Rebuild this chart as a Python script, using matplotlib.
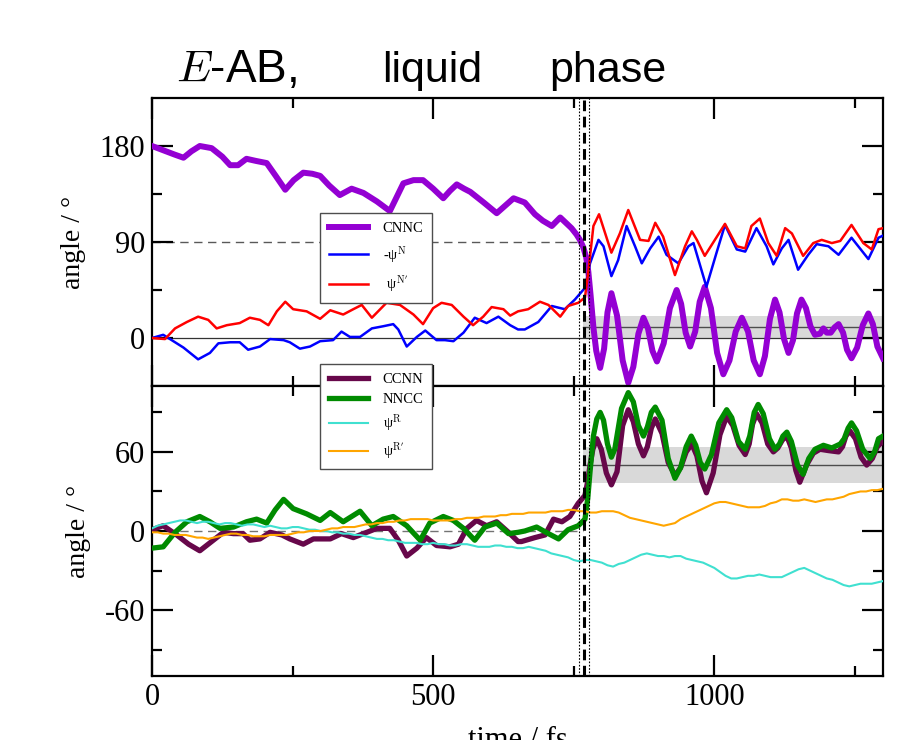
import matplotlib
matplotlib.use("Agg")
import matplotlib.pyplot as plt

plt.rcParams['font.family'] = ['Liberation Serif', 'DejaVu Serif']
plt.rcParams['mathtext.fontset'] = 'cm'
plt.rcParams['axes.unicode_minus'] = False

# --- upper panel: CNNC, -psi^N, psi^N' (degrees vs fs) ---
t_cnnc = [0, 20, 40, 56, 70, 85, 106, 125, 139, 153, 168, 185, 204, 220, 237, 252, 269, 285, 299, 315,
          334, 355, 376, 400, 423, 435, 447, 465, 482, 500, 518, 530, 542, 555, 566, 590, 613, 628, 643, 663,
          681, 695, 711, 726, 736, 746, 755, 761, 767, 772, 776, 780, 785, 790, 797, 804, 810, 817, 827, 837,
          847, 856, 865, 874, 882, 890, 898, 910, 921, 933, 941, 949, 957, 966, 974, 983, 994, 1005, 1016, 1027,
          1038, 1049, 1060, 1070, 1081, 1090, 1099, 1108, 1116, 1124, 1132, 1140, 1147, 1155, 1163, 1171, 1179,
          1188, 1194, 1200, 1207, 1214, 1221, 1229, 1236, 1244, 1254, 1264, 1274, 1282, 1290, 1300]
cnnc = [180, 176, 172, 169, 175, 180, 178, 170, 162, 162, 168, 166, 164, 152, 139, 148, 155, 154, 152, 143,
        134, 140, 136, 128, 119, 132, 145, 148, 148, 140, 131, 138, 144, 140, 137, 127, 117, 124, 131, 127,
        116, 110, 105, 113, 108, 103, 97, 92, 85, 76, 62, 40, 10, -12, -28, -10, 24, 42, 21, -21,
        -42, -27, 4, 19, 9, -12, -22, -5, 28, 45, 32, 5, -8, 6, 34, 48, 28, -14, -34, -21,
        6, 19, 6, -21, -34, -17, 18, 36, 24, -1, -14, -2, 23, 36, 28, 11, 3,
        4, 9, 5, 5, 10, 13, 5, -11, -19, -9, 12, 23, 13, -8, -19]

t_psin = [0, 20, 32, 56, 82, 103, 118, 139, 156, 171, 192, 210, 234, 245, 263, 281, 299, 322, 337, 352,
          370, 391, 411, 429, 438, 453, 471, 486, 506, 521, 536, 554, 574, 595, 616, 637, 651, 663, 687, 711,
          734, 752, 770, 779, 794, 803, 817, 829, 844, 859, 871, 886, 901, 915, 936, 954, 963, 986, 1004, 1019,
          1040, 1055, 1075, 1093, 1105, 1120, 1132, 1149, 1167, 1182, 1203, 1221, 1244, 1274, 1292, 1300]
psin = [0, 3, -1, -9, -20, -14, -5, -4, -4, -11, -8, -1, -2, -4, -10, -8, -3, -2, 6, 1,
        1, 9, 11, 13, 8, -8, 1, 7, -2, -2, -3, 5, 19, 14, 20, 12, 8, 8, 15, 30,
        27, 36, 47, 70, 92, 86, 58, 73, 105, 86, 70, 84, 95, 78, 70, 86, 89, 48, 80, 106,
        83, 81, 103, 86, 69, 84, 92, 64, 78, 88, 86, 78, 94, 74, 94, 96]

t_psin2 = [0, 23, 41, 62, 82, 100, 115, 133, 156, 174, 192, 207, 222, 237, 251, 275, 299, 317, 340, 358,
           373, 391, 417, 441, 465, 482, 500, 515, 533, 554, 571, 589, 604, 625, 637, 651, 669, 690, 705, 726,
           740, 758, 770, 777, 785, 795, 806, 817, 832, 847, 868, 883, 895, 909, 930, 948, 960, 969, 983, 1001,
           1019, 1040, 1055, 1066, 1081, 1096, 1111, 1126, 1138, 1158, 1176, 1191, 1209, 1224, 1244, 1265, 1280,
           1292, 1300]
psin2 = [0, -1, 9, 15, 20, 17, 9, 12, 14, 19, 17, 12, 25, 34, 27, 25, 18, 26, 22, 27,
         31, 19, 33, 31, 22, 13, 28, 33, 31, 20, 12, 20, 29, 27, 21, 25, 27, 34, 31, 20,
         30, 33, 38, 67, 105, 116, 98, 80, 98, 120, 92, 91, 108, 95, 59, 86, 100, 92, 77, 92,
         107, 86, 84, 105, 112, 89, 77, 103, 98, 77, 89, 92, 89, 91, 106, 89, 83,
         102, 103]

# --- lower panel: CCNN, NNCC, psi^R, psi^R' ---
t_ccnn = [0, 20, 44, 65, 85, 106, 127, 145, 162, 174, 192, 210, 231, 245, 269, 287, 317, 337, 358, 376,
          400, 423, 438, 453, 471, 488, 506, 530, 545, 560, 577, 595, 613, 634, 651, 657, 681, 699, 714, 729,
          743, 758, 770, 775, 779, 784, 791, 799, 808, 817, 827, 837, 847, 856, 865, 874, 881, 888, 895, 907,
          918, 930, 940, 950, 960, 969, 978, 986, 998, 1010, 1022, 1033, 1044, 1055, 1062, 1068, 1075, 1085,
          1095, 1105, 1113, 1121, 1129, 1137, 1145, 1152, 1164, 1176, 1188, 1203, 1221, 1228, 1234, 1241,
          1251, 1261, 1271, 1281, 1290, 1300]
ccnn = [1, 4, -3, -10, -15, -8, -1, -2, -2, -7, -6, -1, -3, -6, -10, -6, -6, -2, -5, -2,
        2, 2, -7, -19, -13, -5, -11, -12, -10, 2, 8, 4, 7, -1, -8, -8, -5, -3, 9, 7,
        11, 21, 27, 38, 50, 62, 70, 62, 44, 35, 45, 80, 92, 83, 66, 57, 64, 78, 85, 74,
        52, 42, 48, 60, 66, 57, 38, 29, 44, 73, 87, 80, 65, 58, 66, 81, 89, 82,
        66, 60, 63, 69, 72, 63, 46, 37, 50, 59, 62, 61, 60, 64, 72, 76,
        70, 56, 50, 55, 64, 68]

t_nncc = [0, 20, 41, 62, 85, 103, 121, 145, 168, 186, 204, 219, 234, 251, 275, 299, 317, 340, 370, 391,
          411, 429, 453, 477, 494, 518, 536, 554, 574, 592, 613, 634, 651, 663, 684, 705, 723, 740, 758, 770,
          775, 779, 785, 791, 797, 803, 810, 817, 823, 835, 847, 856, 865, 874, 881, 888, 895, 907, 918, 930,
          940, 950, 959, 967, 975, 983, 995, 1008, 1022, 1031, 1043, 1055, 1063, 1071, 1078, 1087, 1098, 1108,
          1116, 1122, 1129, 1137, 1148, 1158, 1168, 1179, 1194, 1209, 1224, 1231, 1238, 1244, 1253, 1264, 1277,
          1285, 1292, 1300]
nncc = [-13, -12, -1, 7, 11, 7, 2, 3, 7, 9, 6, 16, 24, 17, 13, 8, 14, 7, 15, 4,
        9, 11, 4, -7, 6, 11, 8, 2, -7, 3, 6, -2, -1, 0, 3, -2, -6, 1, 4, 9,
        25, 45, 72, 85, 90, 84, 66, 56, 62, 93, 105, 98, 80, 72, 79, 90, 94, 84, 55, 40,
        48, 64, 72, 65, 52, 47, 58, 82, 92, 86, 68, 62, 72, 90, 96, 89, 70, 62,
        66, 72, 75, 68, 50, 43, 55, 62, 65, 63, 66, 70, 78, 82, 76, 62, 55,
        60, 70, 72]

t_psir = [0, 10, 20, 30, 40, 50, 60, 70, 80, 90, 100, 110, 120, 130, 140, 150, 160, 170, 180, 190,
          200, 210, 220, 230, 240, 250, 260, 270, 280, 290, 300, 310, 320, 330, 340, 350, 360, 370, 380, 390,
          400, 410, 420, 430, 440, 450, 460, 470, 480, 490, 500, 510, 520, 530, 540, 550, 560, 570, 580, 590,
          600, 610, 620, 630, 640, 650, 660, 670, 680, 690, 700, 710, 720, 730, 740, 750, 760, 770, 780, 790,
          800, 810, 820, 830, 840, 850, 860, 870, 880, 890, 900, 910, 920, 930, 940, 950, 960, 970, 980, 990,
          1000, 1010, 1020, 1030, 1040, 1050, 1060, 1070, 1080, 1090, 1100, 1110, 1120, 1130, 1140, 1150, 1160,
          1170, 1180, 1190, 1200, 1210, 1220, 1230, 1240, 1250, 1260, 1270, 1280, 1290, 1300]
psir = [2, 4, 5, 6, 7, 8, 8, 7, 6, 7, 7, 6, 5, 6, 6, 5, 4, 5, 5, 4,
        3, 4, 3, 2, 2, 3, 3, 2, 1, 1, 0, 0, -1, -1, -2, -2, -3, -3, -4, -5,
        -6, -6, -7, -7, -8, -9, -9, -9, -10, -10, -9, -10, -10, -11, -11, -10, -10, -11, -12, -12,
        -12, -11, -11, -12, -12, -13, -13, -12, -13, -14, -15, -17, -18, -19, -20, -22, -23, -22, -22, -23,
        -24, -26, -27, -25, -24, -22, -20, -18, -17, -18, -19, -19, -20, -19, -19, -21, -22, -23, -24, -26,
        -28, -31, -34, -36, -36, -35, -34, -34, -33, -34, -35, -35, -35, -33, -31, -29, -28,
        -30, -32, -34, -36, -37, -39, -41, -42, -41, -40, -40, -40, -39, -38]
psir2 = [-1, -1, -2, -2, -3, -3, -3, -4, -5, -5, -6, -5, -4, -3, -2, -2, -3, -3, -4, -4,
         -4, -3, -3, -3, -3, -2, -1, -1, 0, 0, 0, 1, 2, 2, 3, 3, 3, 4, 5, 5,
         6, 6, 7, 7, 8, 8, 9, 9, 9, 9, 8, 8, 8, 8, 9, 9, 10, 10, 10, 11,
         11, 11, 12, 12, 13, 13, 13, 14, 14, 14, 14, 15, 15, 15, 16, 16, 15, 15, 14, 14,
         15, 15, 15, 14, 12, 10, 9, 8, 7, 6, 5, 4, 5, 6, 9, 11, 13, 15, 17, 19,
         21, 22, 22, 21, 20, 19, 18, 18, 18, 19, 21, 22, 24, 24, 23, 23, 24,
         23, 22, 23, 24, 24, 25, 26, 28, 29, 30, 30, 31, 31, 32]

# transition times and post-transition averages (mean, lower, upper)
t_marks = [760, 769, 777]
t_avg = [767, 1300]
avg_top = [10.5, 0, 21]
avg_bot = [50, 36.5, 63.5]

fig = plt.figure(figsize=(9.06, 7.4), dpi=100)
ax1 = fig.add_axes([152 / 906, 1 - 386 / 740, 731 / 906, 288 / 740])
ax2 = fig.add_axes([152 / 906, 1 - 676 / 740, 731 / 906, 290 / 740])

# reference lines and shaded averages
ax1.plot([0, t_avg[0]], [90, 90], color='0.35', lw=1, ls=(0, (6, 4)), zorder=1)
ax1.axhline(0, color='0.2', lw=0.9, zorder=1)
ax1.fill_between(t_avg, avg_top[1], avg_top[2], color='0.85', lw=0, zorder=0.5)
ax1.plot(t_avg, [avg_top[0]] * 2, color='0.3', lw=1, zorder=1)

ax2.plot([0, t_avg[0]], [0, 0], color='0.45', lw=1, ls=(0, (6, 4)), zorder=1)
ax2.fill_between(t_avg, avg_bot[1], avg_bot[2], color='0.85', lw=0, zorder=0.5)
ax2.plot(t_avg, [avg_bot[0]] * 2, color='0.3', lw=1, zorder=1)

l1, = ax1.plot(t_cnnc, cnnc, color='#9400D3', lw=4.3, solid_joinstyle='round', zorder=3)
l2, = ax1.plot(t_psin, psin, color='#0000FF', lw=1.8, solid_joinstyle='round', zorder=4)
l3, = ax1.plot(t_psin2, psin2, color='#FF0000', lw=1.8, solid_joinstyle='round', zorder=5)

l4, = ax2.plot(t_ccnn, ccnn, color='#67074A', lw=3.8, solid_joinstyle='round', zorder=3)
l5, = ax2.plot(t_nncc, nncc, color='#008B00', lw=3.8, solid_joinstyle='round', zorder=4)
l6, = ax2.plot(t_psir, psir, color='#40E0D0', lw=1.5, zorder=5)
l7, = ax2.plot(t_psir, psir2, color='#FFA500', lw=1.5, zorder=6)

for ax in (ax1, ax2):
    ax.axvline(t_marks[0], color='k', lw=0.8, ls=(0, (1.5, 1.5)), zorder=6)
    ax.axvline(t_marks[1], color='k', lw=2.2, ls=(0, (3.5, 1.8)), zorder=6)
    ax.axvline(t_marks[2], color='k', lw=0.8, ls=(0, (1.5, 1.5)), zorder=6)
    ax.set_xlim(0, 1300)
    ax.set_xticks([0, 500, 1000])
    ax.set_xticks([250, 750, 1250], minor=True)
    ax.tick_params(which='both', direction='in', top=True, right=True, width=1.6,
                   labelsize=22, pad=5)
    ax.tick_params(which='major', length=15)
    ax.tick_params(which='minor', length=7)
    for s in ax.spines.values():
        s.set_linewidth(1.6)
    ax.set_ylabel('angle / °', fontsize=20, labelpad=10)

ax1.set_ylim(-45, 225)
ax1.set_yticks([0, 90, 180])
ax1.set_yticks([45, 135], minor=True)
ax1.tick_params(labelbottom=False)

ax2.set_ylim(-110, 110)
ax2.set_yticks([-60, 0, 60])
ax2.set_yticks([-90, -30, 30, 90], minor=True)
ax2.set_xlabel('time / fs', fontsize=22, labelpad=10)

leg_kw = dict(loc='upper left', bbox_transform=fig.transFigure, fontsize=10.5, fancybox=False,
              edgecolor='0.3', framealpha=1, borderaxespad=0, handlelength=2.7, handletextpad=1.0,
              borderpad=0.6)
fig.legend([l1, l2, l3], ['CNNC', r'-ψ$^{\rm N}$', r' ψ$^{\rm N^\prime}$'],
           bbox_to_anchor=(320 / 906, 1 - 213 / 740), labelspacing=0.6, **leg_kw)
fig.legend([l4, l5, l6, l7], ['CCNN', 'NNCC', r'ψ$^{\rm R}$', r'ψ$^{\rm R^\prime}$'],
           bbox_to_anchor=(320 / 906, 1 - 364 / 740), labelspacing=0.45, **leg_kw)

title_words = [r'$E$-AB,', 'liquid', 'phase']
title_x = [236, 432, 608]
title_size = [33, 31, 31]
for word, x, size in zip(title_words, title_x, title_size):
    fig.text(x / 906, 1 - 82 / 740, word, fontsize=size,
             family=['Liberation Sans', 'DejaVu Sans'], ha='center', va='baseline')

fig.savefig('out.png', dpi=100)
